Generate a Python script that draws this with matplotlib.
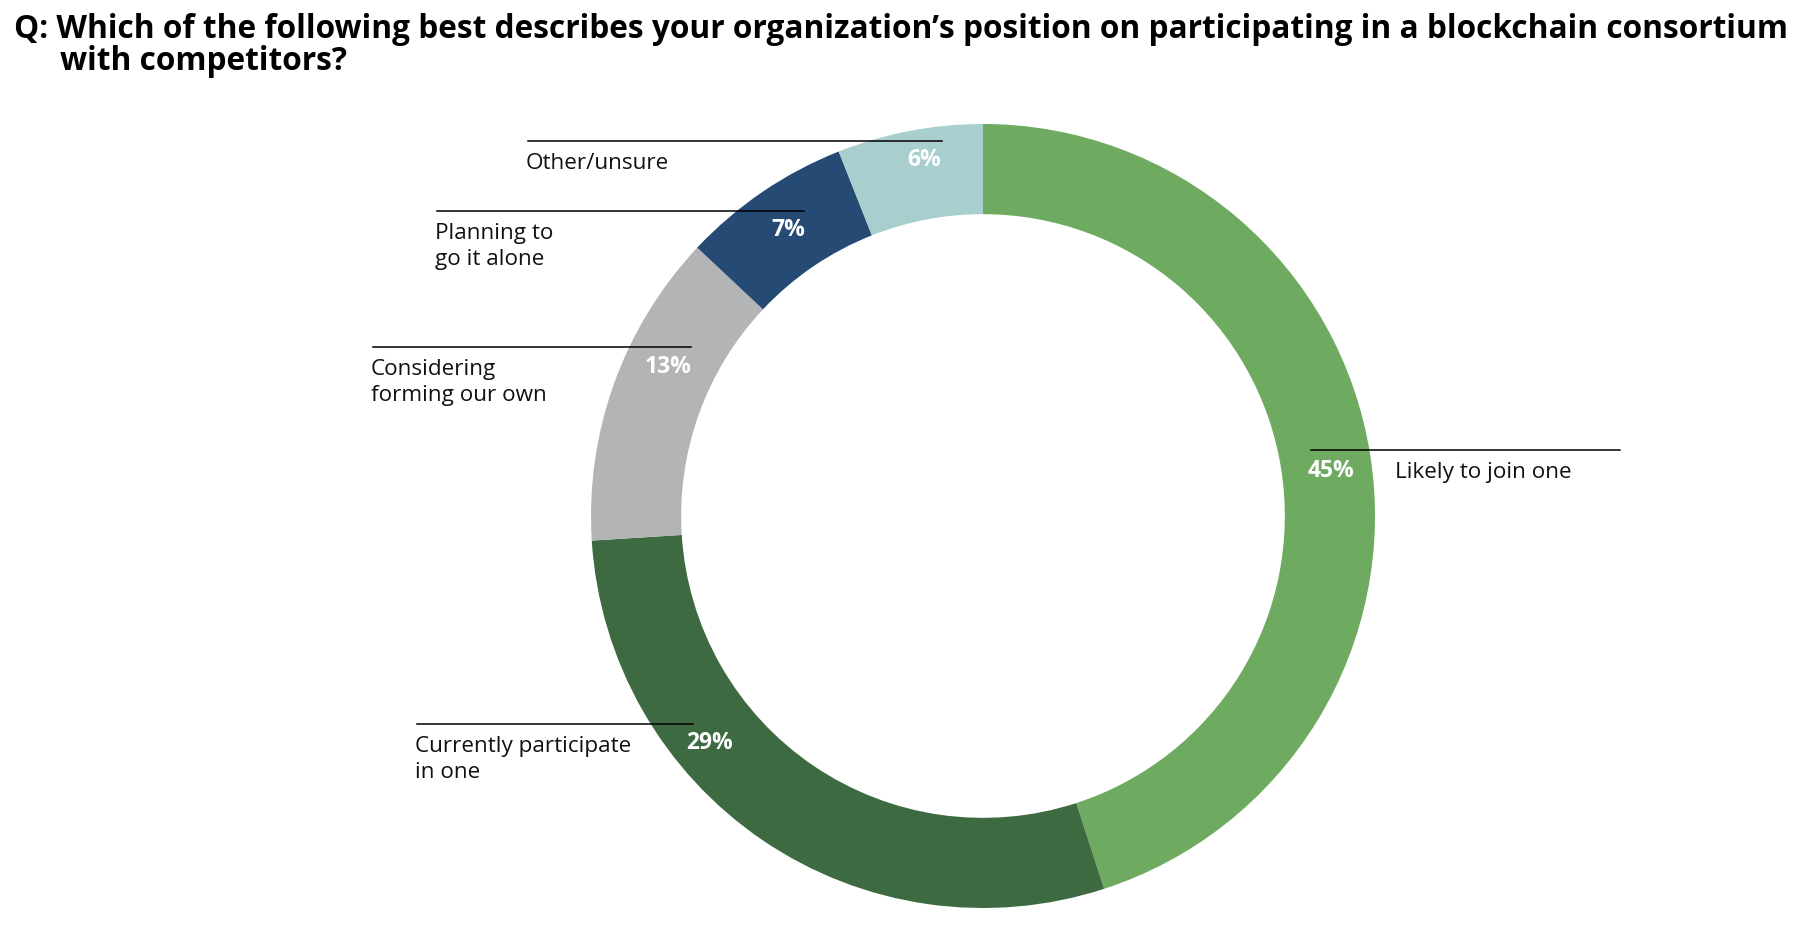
import matplotlib.pyplot as plt

# data
labels = ["Likely to join one", "Currently participate\nin one", "Considering\nforming our own",
          "Planning to\ngo it alone", "Other/unsure"]
values = [45, 29, 13, 7, 6]
colors = ["#6EAB60", "#3D6A41", "#B3B4B6", "#254A74", "#A8CFCD"]

# layout (pixels, top-down)
W, H = 1810, 946
cx, cy, R, ring = 983, 516, 392, 0.23
# leader line: x0, x1, y ; text x ; pct position
lines = [(1311, 1620, 450), (417, 693, 724), (373, 691, 347), (437, 804, 211), (528, 942, 141)]
text_x = [1395, 415, 371, 435, 526]
pct_xy = [(1331, 471), (710, 743), (668, 367), (788, 230), (924, 160)]

fig = plt.figure(figsize=(W / 100, H / 100), dpi=100)
ax = fig.add_axes([0, 0, 1, 1])

ax.pie(values, colors=colors, center=(cx, cy), radius=R, startangle=-90, counterclock=True,
       wedgeprops=dict(width=R * ring, linewidth=0))

ax.set_xlim(0, W)
ax.set_ylim(H, 0)
ax.axis('off')

for i, lab in enumerate(labels):
    x0, x1, y = lines[i]
    ax.plot([x0, x1], [y, y], color='black', lw=1.1, zorder=3)
    ax.text(text_x[i], y + 12, lab, ha='left', va='top', fontsize=16.2, family='Open Sans',
            color='#111111', linespacing=1.33)
    px, py = pct_xy[i]
    ax.text(px, py, f"{values[i]}%", ha='center', va='center', fontsize=16.5, family='Open Sans',
            fontweight='bold', color='white', zorder=4)

ax.text(14, 30, "Q: Which of the following best describes your organization\u2019s position on participating in a blockchain consortium",
        ha='left', va='center', fontsize=22.8, family='Open Sans', fontweight='bold', color='black')
ax.text(60, 62, "with competitors?", ha='left', va='center', fontsize=22.8, family='Open Sans',
        fontweight='bold', color='black')

fig.savefig('out.png', dpi=100)
